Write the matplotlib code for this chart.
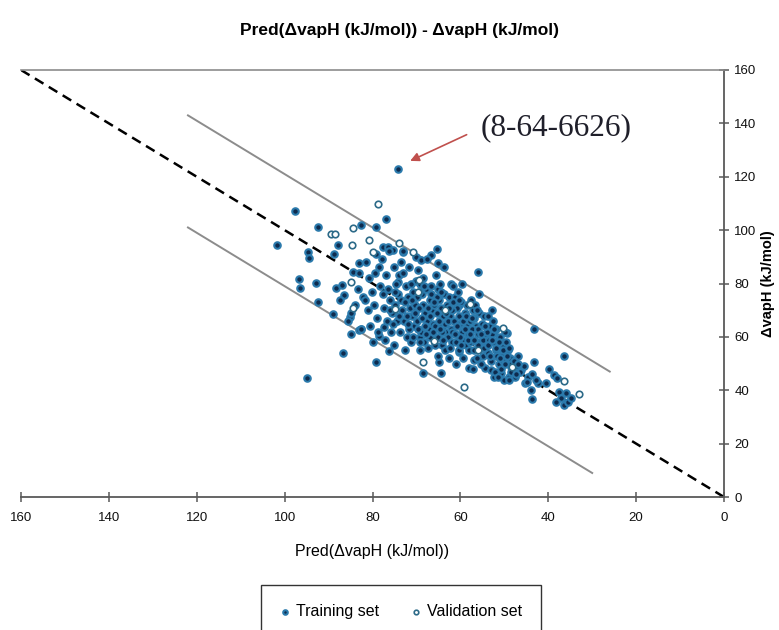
import matplotlib
matplotlib.use("Agg")
import matplotlib.pyplot as plt
from matplotlib import font_manager

train_points = [
    # scattered points around the band
    (97.6, 107.1), (92.4, 101.1), (82.6, 101.9), (79.2, 101.2), (76.9, 104.0),
    (101.7, 94.6), (87.9, 94.6), (94.7, 91.9), (94.5, 89.4), (88.8, 90.9),
    (83.0, 87.5), (84.5, 84.2), (96.8, 81.6), (96.4, 78.2), (92.8, 80.3),
    (92.4, 72.9), (88.2, 78.2), (87.0, 79.4), (86.4, 75.7), (87.3, 73.8),
    (94.8, 44.7), (86.7, 54.0), (79.2, 50.4), (89.0, 68.5), (85.2, 67.3),
    (82.6, 62.9), (78.6, 60.3), (76.3, 54.8), (68.6, 46.3), (64.4, 46.3),
    (77.6, 93.7), (76.5, 93.7), (75.4, 92.5), (73.1, 91.9), (70.1, 90.0),
    (68.9, 88.8), (66.7, 90.6), (65.4, 92.9), (65.2, 87.5), (55.9, 84.2),
    (62.1, 80.0), (60.2, 71.9), (74.3, 80.6), (74.3, 122.8), (83.0, 62.5),
    (77.3, 63.8), (69.3, 60.0), (64.8, 50.7), (62.5, 51.9), (60.2, 54.4),
    (58.0, 48.2), (56.8, 51.3), (54.5, 48.2), (52.9, 70.0), (43.3, 62.8),
    (36.5, 52.8), (43.2, 50.4), (43.6, 36.7), (39.8, 47.8), (38.6, 45.7),
    (37.9, 44.5), (42.3, 42.6), (40.5, 42.6), (44.6, 45.1), (45.4, 42.6),
    (37.5, 39.4), (37.1, 37.0), (36.4, 34.5), (35.6, 35.7), (34.9, 37.0),
    (38.3, 35.7), (36.0, 38.8), (53.8, 63.2), (52.3, 61.9), (51.1, 59.4),
    (51.5, 56.9), (49.3, 61.3), (50.0, 55.1), (48.5, 48.8), (53.0, 47.6),
    (52.3, 45.1), (50.8, 46.3), (50.0, 43.8), (48.9, 45.1), (47.0, 48.2),
    (46.2, 47.6),
    # dense band
    (85.5, 66), (84.0, 72), (83.2, 78), (82.6, 63), (84.8, 69), (83.0, 84),
    (82.2, 75), (85.0, 61),
    (81.5, 88), (80.8, 82), (80.2, 77), (79.6, 72), (81.0, 70), (79.0, 67),
    (80.5, 64), (78.6, 86), (79.3, 91), (78.2, 79), (81.8, 74), (78.8, 62),
    (80.0, 58), (79.5, 84),
    (77.8, 89), (77.0, 83), (76.5, 78), (76.0, 74), (77.4, 71), (75.6, 69),
    (76.8, 66), (75.2, 86), (74.6, 80), (74.2, 76), (75.8, 62), (74.8, 72),
    (77.2, 59), (74.4, 66), (76.2, 92), (75.0, 57), (77.6, 76), (74.0, 83),
    (73.6, 88), (73.0, 84), (72.4, 79), (72.0, 75), (71.5, 71), (73.2, 70),
    (72.8, 66), (71.0, 68), (70.6, 64), (73.8, 62), (72.2, 60), (70.2, 81),
    (71.8, 86), (70.8, 77), (73.4, 74), (71.2, 58), (72.6, 55), (70.4, 72),
    (73.0, 92), (71.6, 63),
    (69.6, 85), (69.2, 80), (68.8, 76), (68.4, 72), (68.0, 69), (67.6, 66),
    (67.2, 63), (66.8, 60), (69.8, 66), (69.0, 62), (68.2, 58), (67.0, 74),
    (66.4, 70), (69.4, 71), (68.6, 82), (67.8, 78), (66.6, 79), (67.4, 56),
    (66.2, 65), (69.9, 75), (68.1, 64), (66.9, 68), (67.7, 89), (69.1, 55),
    (65.6, 83), (65.2, 78), (64.8, 74), (64.4, 71), (64.0, 68), (63.6, 65),
    (63.2, 62), (62.8, 60), (65.8, 64), (65.0, 60), (64.2, 57), (63.0, 72),
    (62.4, 68), (65.4, 69), (64.6, 80), (63.8, 76), (62.6, 75), (63.4, 55),
    (62.2, 63), (65.9, 72), (64.1, 62), (62.9, 66), (63.7, 86), (65.1, 53),
    (62.0, 58), (64.9, 66),
    (61.6, 79), (61.2, 75), (60.8, 71), (60.4, 68), (60.0, 65), (59.6, 62),
    (59.2, 59), (58.8, 57), (61.8, 62), (61.0, 58), (60.2, 55), (59.0, 69),
    (58.4, 65), (61.4, 66), (60.6, 77), (59.8, 73), (58.6, 72), (59.4, 52),
    (58.2, 61), (61.9, 70), (60.1, 60), (58.9, 63), (59.7, 80), (61.1, 50),
    (58.0, 55),
    (57.6, 74), (57.2, 70), (56.8, 67), (56.4, 64), (56.0, 61), (55.6, 58),
    (55.2, 56), (54.8, 53), (57.8, 58), (57.0, 55), (56.2, 52), (55.0, 65),
    (54.4, 61), (57.4, 63), (56.6, 72), (55.8, 69), (54.6, 68), (55.4, 50),
    (54.2, 57), (57.9, 66), (56.1, 57), (54.9, 59), (55.7, 76), (57.1, 48),
    (53.6, 68), (53.2, 64), (52.8, 61), (52.4, 58), (52.0, 55), (51.6, 53),
    (51.2, 50), (50.8, 48), (53.8, 54), (53.0, 51), (52.2, 47), (51.0, 60),
    (50.4, 57), (53.4, 59), (52.6, 66), (51.8, 63), (50.6, 53), (51.4, 45),
    (50.2, 51), (53.9, 62),
    (49.6, 58), (49.2, 55), (48.8, 52), (48.4, 50), (48.0, 47), (47.6, 45),
    (47.2, 49), (49.8, 62), (49.0, 44), (46.8, 53), (46.4, 47),
    (43.6, 46), (44.8, 43), (45.6, 49), (42.8, 44), (44.0, 40),
    # core of the band, where markers overlap most
    (71.3, 80), (70.9, 74), (70.3, 69), (69.7, 63), (69.3, 58), (68.7, 67),
    (68.3, 79), (67.9, 61), (67.3, 71), (66.7, 76), (66.3, 62), (65.7, 57),
    (65.3, 75), (64.7, 63), (64.3, 77), (63.9, 59), (63.3, 69), (62.7, 71),
    (62.3, 56), (61.7, 73), (61.3, 61), (60.7, 64), (60.3, 74), (59.9, 57),
    (59.3, 66), (58.7, 68), (58.3, 59), (57.7, 61), (57.3, 67), (56.9, 59),
    (56.3, 70), (55.9, 63), (55.3, 61), (54.7, 56), (54.3, 64), (53.7, 57),
    (53.3, 53), (52.7, 59), (52.3, 63), (51.9, 56), (51.3, 58), (50.9, 52),
    (50.3, 55), (49.9, 50), (49.5, 53), (48.9, 56), (48.5, 47), (47.9, 51),
    (47.3, 46), (46.9, 50), (72.7, 73), (72.1, 68), (74.9, 77), (75.3, 65),
    (76.1, 70), (73.9, 68), (71.9, 65), (70.7, 60), (69.5, 77), (66.1, 73),
]

val_points = [
    (89.4, 98.4), (88.5, 98.4), (84.5, 100.9), (84.7, 94.6), (84.8, 80.6),
    (84.5, 70.9), (78.8, 109.7), (80.7, 96.3), (73.9, 95.0), (70.8, 91.9),
    (79.9, 91.9), (69.7, 76.9), (69.5, 81.3), (68.4, 50.7), (59.1, 41.3),
    (57.9, 72.5), (50.4, 63.2), (48.2, 48.8), (36.4, 43.4), (33.0, 38.5),
    (74.8, 70.5), (63.5, 70.0), (66.0, 58.5), (56.0, 55.0),
]

band_offset = 21  # +/- limits drawn around the y = x line
upper_x = [122, 26]
lower_x = [122, 30]
dash_x = [160, 0]

annot_text = "(8-64-6626)"

names = {f.name for f in font_manager.fontManager.ttflist}
sans = "Liberation Sans Narrow" if "Liberation Sans Narrow" in names else "Liberation Sans"
serif = "Liberation Serif" if "Liberation Serif" in names else "DejaVu Serif"
plt.rcParams["font.family"] = [sans, "DejaVu Sans"]

fig = plt.figure(figsize=(7.79, 6.30), dpi=100)
ax = fig.add_axes([21 / 779, 1 - 497 / 630, 703 / 779, 427 / 630])

tx = [p[0] for p in train_points]
ty = [p[1] for p in train_points]
vx = [p[0] for p in val_points]
vy = [p[1] for p in val_points]

# reference lines
ax.plot(dash_x, dash_x, color="black", lw=1.8, ls=(0, (4, 2.5)), zorder=2)
ax.plot(upper_x, [v + band_offset for v in upper_x], color="#8c8c8c", lw=1.4, zorder=2)
ax.plot(lower_x, [v - band_offset for v in lower_x], color="#8c8c8c", lw=1.4, zorder=2)

ax.scatter(tx, ty, s=22, facecolor="#0e2b4e", edgecolor="#2b7aac", linewidths=1.5,
           zorder=3, label="Training set")
ax.scatter(vx, vy, s=22, facecolor="white", edgecolor="#2c6a88", linewidths=1.2,
           zorder=4, label="Validation set")

# highlighted compound
ax.annotate("", xy=(72.0, 125.5), xytext=(58.0, 136.2),
            arrowprops=dict(arrowstyle="-|>", color="#c0504d", lw=1.2, mutation_scale=13))
ax.text(55.3, 138.2, annot_text, family=serif, fontsize=22.5, color="#1f1f2a",
        ha="left", va="center")

ax.set_xlim(160, 0)
ax.set_ylim(0, 160)
ax.set_xticks(range(0, 161, 20))
ax.set_yticks(range(0, 161, 20))
ax.yaxis.tick_right()
ax.yaxis.set_label_position("right")
ax.tick_params(axis="both", direction="inout", length=7, width=1.1, color="#595959",
               labelsize=9.5, labelcolor="#111111")
ax.tick_params(axis="x", pad=7)
ax.tick_params(axis="y", pad=4)

ax.spines["left"].set_visible(False)
ax.spines["top"].set_color("#8c8c8c")
ax.spines["top"].set_linewidth(1.2)
for side in ("right", "bottom"):
    ax.spines[side].set_color("#595959")
    ax.spines[side].set_linewidth(1.3)

ax.set_xlabel("Pred(ΔvapH (kJ/mol))", fontsize=11.5, labelpad=15)
ax.set_ylabel("ΔvapH (kJ/mol)", fontsize=10.5, fontweight="bold", labelpad=3)
fig.text(0.513, 0.952, "Pred(ΔvapH (kJ/mol)) - ΔvapH (kJ/mol)", ha="center", va="center",
         fontsize=12.5, fontweight="bold")

leg = fig.legend(loc="upper center", bbox_to_anchor=(401 / 779, 1 - 585 / 630), ncol=2,
                 frameon=True, fontsize=11.5, handlelength=0.6, handletextpad=0.4,
                 columnspacing=2.0, borderpad=1.2, borderaxespad=0, markerscale=0.7,
                 fancybox=False)
leg.get_frame().set_edgecolor("black")
leg.get_frame().set_linewidth(1.0)

fig.savefig("out.png", dpi=100)
